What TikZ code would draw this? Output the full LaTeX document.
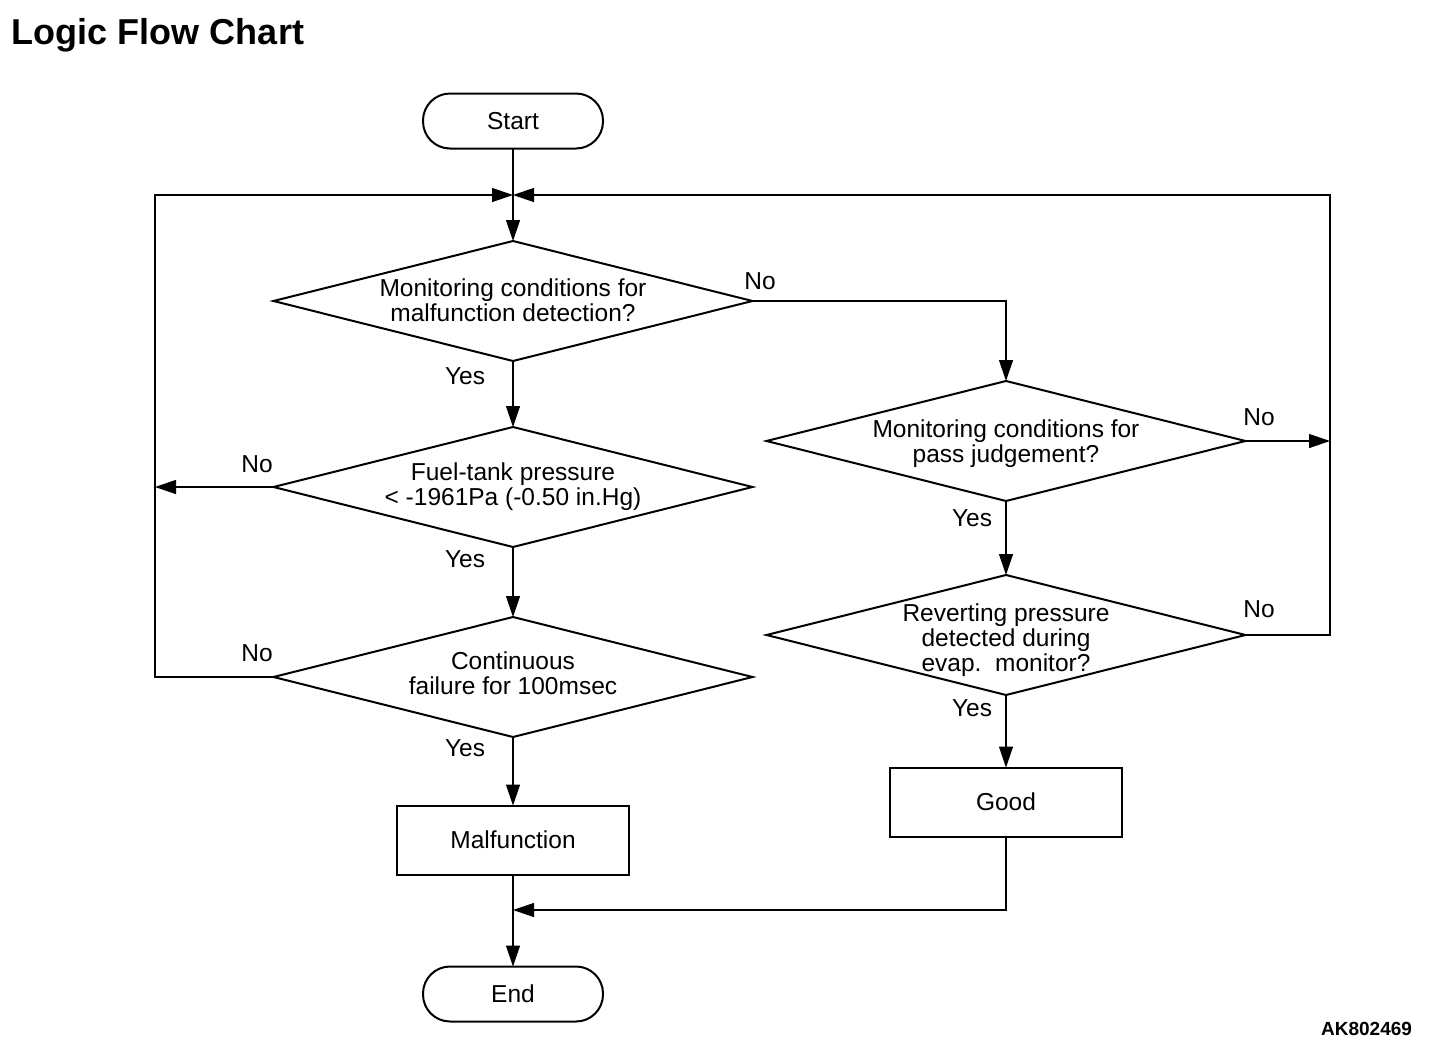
\documentclass[tikz,border=0pt]{standalone}
\usepackage{fontspec}
\setmainfont{Liberation Sans}
\usetikzlibrary{shapes.geometric,arrows.meta}
\begin{document}
\begin{tikzpicture}[x=1pt,y=-1pt,
  every node/.style={font=\fontsize{24.5}{25}\selectfont, inner sep=0pt, outer sep=0pt},
  dia/.style={draw, line width=2pt, diamond, minimum width=479pt, minimum height=120pt},
  pill/.style={draw, line width=2pt, rectangle, rounded corners=27pt, minimum width=180pt, minimum height=55pt},
  boxn/.style={draw, line width=2pt, rectangle, minimum width=232pt, minimum height=69pt},
  txt/.style={align=center},
  lbl/.style={},
  conn/.style={line width=1.3pt},
  arr/.style={conn, -{Triangle[length=21pt,width=14pt]}}
]
\useasboundingbox (0,0) rectangle (1440,1050);
\node[anchor=base west, font=\fontsize{36}{40}\selectfont\bfseries] (title) at (12,44) {Logic Flow Chart};
\node[anchor=base east, font=\fontsize{19}{20}\selectfont\bfseries] (code) at (1412,1035) {AK802469};

\node[pill] (start) at (513,121) {Start};
\node[dia] (d1) at (513,301) {};
\node[txt] (d1t) at (513,300) {Monitoring conditions for\\malfunction detection?};
\node[dia] (d2) at (513,487) {};
\node[txt] (d2t) at (513,487) {Fuel-tank pressure\\< -1961Pa (-0.50 in.Hg)};
\node[dia] (d3) at (513,677) {};
\node[txt] (d3t) at (513,673) {Continuous\\failure for 100msec};
\node[boxn] (mal) at (513,840) {Malfunction};
\node[pill] (end) at (513,994) {End};
\node[dia] (d4) at (1006,441) {};
\node[txt] (d4t) at (1006,444) {Monitoring conditions for\\pass judgement?};
\node[dia] (d5) at (1006,635) {};
\node[txt] (d5t) at (1006,640) {Reverting pressure\\detected during\\evap.\ \ monitor?};
\node[boxn] (good) at (1006,802) {Good};

\coordinate (j) at (513,195);
\coordinate (L) at (155,195);
\coordinate (R) at (1330,195);
\coordinate (m) at (513,910);

\draw[arr] (start.south) -- (d1.north);
\draw[arr] (d1.south) -- (d2.north);
\draw[arr] (d2.south) -- (d3.north);
\draw[arr] (d3.south) -- (mal.north);
\draw[arr] (mal.south) -- (end.north);
\draw[arr] (d1.east) -| (d4.north);
\draw[arr] (d4.south) -- (d5.north);
\draw[arr] (d5.south) -- (good.north);
\draw[arr] (good.south) |- (m);
\draw[arr] (d2.west) -- (d2.west -| L);
\draw[arr] (d3.west) -| (L) -- (j);
\draw[arr] (d4.east) -- (d4.east -| R);
\draw[arr] (d5.east) -| (R) -- (j);

\node[lbl] (l1) at (760,281) {No};
\node[lbl] (l2) at (465,376) {Yes};
\node[lbl] (l3) at (257,464) {No};
\node[lbl] (l4) at (465,559) {Yes};
\node[lbl] (l5) at (257,653) {No};
\node[lbl] (l6) at (465,748) {Yes};
\node[lbl] (l7) at (1259,417) {No};
\node[lbl] (l8) at (972,518) {Yes};
\node[lbl] (l9) at (1259,609) {No};
\node[lbl] (l10) at (972,708) {Yes};
\end{tikzpicture}
\end{document}
